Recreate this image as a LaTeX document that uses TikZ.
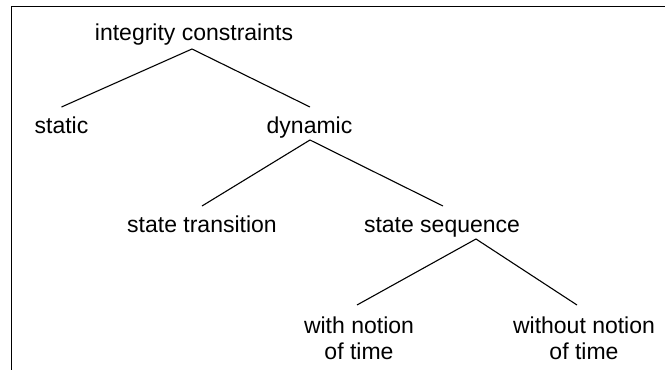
\documentclass[tikz,border=0pt]{standalone}
\usepackage{fontspec}
\setmainfont{Liberation Sans}
\usetikzlibrary{calc}
\begin{document}
\begin{tikzpicture}[x=1pt,y=-1pt,
  lbl/.style={anchor=base,inner sep=0pt,align=center,
    font=\fontsize{23}{26}\selectfont},
  branch/.style={line width=1.1pt},
  frameline/.style={line width=1.8pt}]
  \useasboundingbox (0,0) rectangle (665,370);
  % open frame: top and left edges only
  \coordinate (fa) at (666,6.5);
  \coordinate (fc) at (11.5,6.5);
  \coordinate (fb) at (11.5,372);
  \draw[frameline] (fa) -- (fc) -- (fb);

  % labels (two-line labels are placed by the baseline of their last line)
  \node[lbl] (ic) at (194,40) {integrity constraints};
  \node[lbl] (st) at (61.5,133) {static};
  \node[lbl] (dy) at (309.5,133) {dynamic};
  \node[lbl] (tr) at (202,232) {state transition};
  \node[lbl] (sq) at (442,232) {state sequence};
  \node[lbl] (wn) at (359,359) {with notion\\of time};
  \node[lbl] (wo) at (584,359) {without notion\\of time};

  % branches
  \draw[branch] ($(st.base)+(0,-26)$) -- ($(ic.base)+(-2,9)$) -- ($(dy.base)+(0.5,-26)$);
  \draw[branch] ($(tr.base)+(0,-26)$) -- ($(dy.base)+(0.5,7)$) -- ($(sq.base)+(1,-26)$);
  \draw[branch] ($(wn.base)+(-2,-54)$) -- ($(sq.base)+(34,7)$) -- ($(wo.base)+(-7,-54)$);
\end{tikzpicture}
\end{document}
